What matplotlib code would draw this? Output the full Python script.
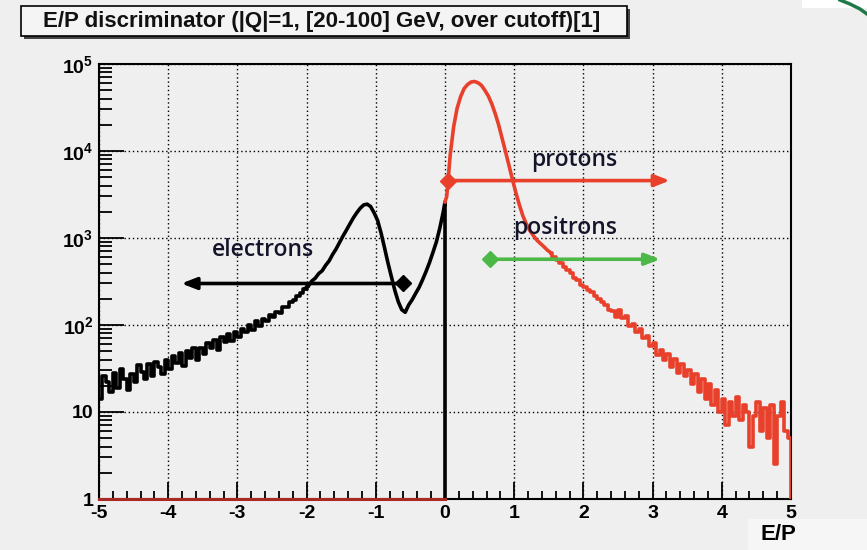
import numpy as np
import matplotlib
matplotlib.use("Agg")
import matplotlib.pyplot as plt
from matplotlib.ticker import FixedLocator, FixedFormatter, LogLocator, NullFormatter, MultipleLocator
from matplotlib.patches import Rectangle
from matplotlib.lines import Line2D

plt.rcParams['font.family'] = ['Liberation Sans', 'DejaVu Sans']
plt.rcParams['mathtext.fontset'] = 'custom'
plt.rcParams['mathtext.bf'] = 'Liberation Sans:bold'
plt.rcParams['mathtext.rm'] = 'Liberation Sans:bold'
plt.rcParams['mathtext.default'] = 'bf'

# ---------------- data ----------------
bin_width = 0.05
# electron-like (black) histogram, bins from -5 to 0
black_counts = [
    14, 26, 22, 17, 28, 19, 31, 24, 18, 27,
    22, 35, 29, 24, 36, 26, 38, 33, 27, 40,
    31, 44, 37, 48, 34, 50, 42, 55, 40, 54,
    47, 62, 55, 68, 52, 72, 63, 78, 66, 83,
    72, 90, 82, 100, 88, 110, 98, 118, 110, 130,
    125, 142, 138, 160, 162, 182, 195, 215, 235, 262,
    280, 320, 345, 390, 420, 485, 545, 645, 745, 885,
    1050, 1230, 1450, 1700, 1950, 2200, 2400, 2450, 2300, 1950,
    1600, 1150, 780, 520, 360, 250, 185, 150, 140, 170,
    195, 230, 270, 330, 410, 520, 680, 900, 1300, 2000,
]
black_edge_value = 2600   # content at the cut E/P = 0

# proton-like (red) histogram, bins from 0 to 5
red_counts = [
    3000, 9000, 19000, 31000, 42000, 52000, 58000, 62000, 63000, 61000,
    57000, 50000, 43000, 35000, 27000, 20000, 14000, 9800, 6800, 4700,
    3300, 2400, 1800, 1450, 1220, 1070, 950, 870, 800, 730,
    680, 610, 560, 520, 470, 430, 395, 350, 330, 290,
    275, 255, 240, 215, 200, 182, 170, 150, 145, 125,
    148, 120, 128, 98, 104, 84, 90, 70, 74, 58,
    62, 45, 52, 40, 46, 33, 41, 28, 36, 26,
    30, 21, 27, 17, 24, 14, 21, 12, 18, 10,
    14, 7, 13, 9, 15, 8, 12, 10, 4, 9,
    13, 6, 11, 5, 12, 2.5, 9, 13, 6, 5,
]
red_edge_value = 2600

x_range = (-5, 5)
y_range = (1, 1e5)
x_ticks = [-5, -4, -3, -2, -1, 0, 1, 2, 3, 4, 5]
y_ticks = [1, 10, 100, 1000, 1e4, 1e5]
y_tick_labels = ['1', '10', r'$10^{2}$', r'$10^{3}$', r'$10^{4}$', r'$10^{5}$']

# annotation arrows: (start x, end x, y)
electron_arrow = (-0.61, -3.81, 300)
proton_arrow = (0.04, 3.25, 4570)
positron_arrow = (0.65, 3.11, 570)
label_pos = {'electrons': (-2.63, 725), 'protons': (1.87, 7900), 'positrons': (1.74, 1300)}

title = "E/P discriminator (|Q|=1, [20-100] GeV, over cutoff)[1]"

# bins drawn as steps (noisy tails) vs. smooth line (peaks)
black_step_bins = 60   # first 60 black bins drawn as steps
red_smooth_bins = 30   # first 30 red bins drawn as smooth line

# ---------------- figure ----------------
BG = '#efefef'
RED = '#e8402a'
GREEN = '#4cb848'
W, H = 867, 550
fig = plt.figure(figsize=(8.67, 5.5), dpi=100, facecolor=BG)
ax = fig.add_axes([99/W, 51/H, 692/W, 435/H])
ax.set_facecolor(BG)
ax.set_yscale('log')
ax.set_xlim(*x_range)
ax.set_ylim(*y_range)

bc = np.asarray(black_counts, float)
rc = np.asarray(red_counts, float)
bx = x_range[0] + bin_width * (np.arange(len(bc)) + 0.5)
rx = 0 + bin_width * (np.arange(len(rc)) + 0.5)

# red empty bins along the floor for E/P < 0
ax.plot([x_range[0], 0], [y_range[0], y_range[0]], color='#a82a22', lw=2.2,
        clip_on=False, zorder=6)

LW = 2.6
# black histogram: noisy tail as steps, peak region as line
k = black_step_bins
ax.plot(bx[:k + 1], bc[:k + 1], drawstyle='steps-mid', color='black', lw=LW, zorder=4)
ax.plot(np.r_[bx[k - 1:], 0, 0], np.r_[bc[k - 1:], black_edge_value, y_range[0]],
        color='black', lw=LW, zorder=4)
# red histogram: peak as line, tail as steps
m = red_smooth_bins
ax.plot(np.r_[0, rx[:m + 1]], np.r_[red_edge_value, rc[:m + 1]],
        color=RED, lw=LW, zorder=4)
ax.plot(np.r_[rx[m:], x_range[1]], np.r_[rc[m:], rc[-1]], drawstyle='steps-mid',
        color=RED, lw=LW, zorder=4)
ax.plot([x_range[1], x_range[1]], [rc[-1], y_range[0]], color=RED, lw=LW, zorder=4)

# grid
ax.grid(True, which='major', color='black', linestyle=(0, (1, 2)), lw=1.0)

# ticks
ax.xaxis.set_major_locator(FixedLocator(x_ticks))
ax.xaxis.set_minor_locator(MultipleLocator(0.2))
ax.yaxis.set_major_locator(FixedLocator(y_ticks))
ax.yaxis.set_major_formatter(FixedFormatter(y_tick_labels))
ax.yaxis.set_minor_locator(LogLocator(base=10, subs=np.arange(2, 10), numticks=20))
ax.yaxis.set_minor_formatter(NullFormatter())
ax.set_xticklabels([str(t) for t in x_ticks])
ax.tick_params(which='both', direction='in', width=1.3, labelsize=14,
               top=False, right=False)
ax.tick_params(axis='x', which='major', length=12, pad=4)
ax.tick_params(axis='x', which='minor', length=6)
ax.tick_params(axis='y', which='major', length=18, pad=4)
ax.tick_params(axis='y', which='minor', length=9)
for lab in ax.get_xticklabels() + ax.get_yticklabels():
    lab.set_fontweight('bold')
for s in ax.spines.values():
    s.set_linewidth(1.5)

# arrows
def arrow(spec, color):
    x0, x1, y = spec
    ax.annotate('', xy=(x1, y), xytext=(x0, y),
                arrowprops=dict(arrowstyle='-|>,head_length=0.9,head_width=0.35',
                                color=color, lw=2.6, shrinkA=0, shrinkB=0),
                zorder=7)
    ax.plot([x0], [y], marker='D', color=color, ms=8, zorder=8)

arrow(electron_arrow, 'black')
arrow(proton_arrow, RED)
arrow(positron_arrow, GREEN)

for name, (lx, ly) in label_pos.items():
    ax.text(lx, ly, name, ha='center', va='center', fontsize=16.5,
            family=['Open Sans', 'DejaVu Sans'], fontweight='semibold',
            color='#14142a', zorder=9)

# x-axis label
fig.patches.append(Rectangle((748/W, 0), 119/W, 31/H, transform=fig.transFigure,
                             facecolor='#f6f6f6', edgecolor='none'))
fig.text(778/W, 15/H, 'E/P', ha='center', va='center', fontsize=16,
         fontweight='bold')

# title box with shadow
fig.patches.append(Rectangle((24/W, (H - 39)/H), 606/W, 30/H, transform=fig.transFigure,
                             facecolor='#444444', edgecolor='none'))
fig.patches.append(Rectangle((21/W, (H - 36)/H), 606/W, 30/H, transform=fig.transFigure,
                             facecolor='#f4f4f4', edgecolor='black', lw=1.2))
fig.text(43/W, (H - 21)/H, title, ha='left', va='center', fontsize=16,
         fontweight='bold', color='#111111')

# slide artefact in the top-right corner
fig.patches.append(Rectangle((802/W, (H - 8)/H), 65/W, 8/H, transform=fig.transFigure,
                             facecolor='white', edgecolor='none'))
fig.lines.append(Line2D([840/W, 850/W, 860/W, 867/W],
                        [1.0, (H - 4)/H, (H - 9)/H, (H - 14)/H],
                        transform=fig.transFigure, color='#1f7a4a', lw=2.5))

fig.savefig('out.png', dpi=100, facecolor=BG)
